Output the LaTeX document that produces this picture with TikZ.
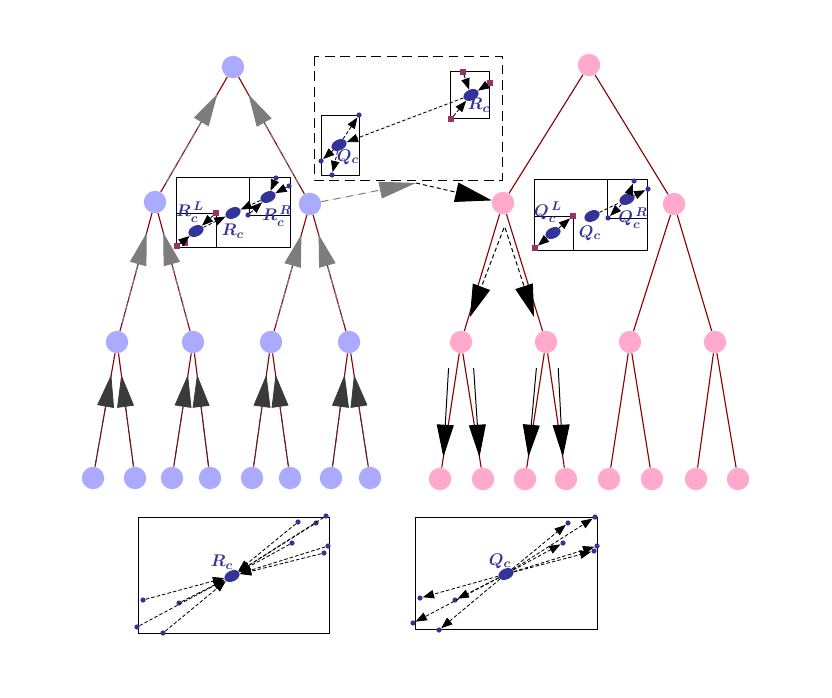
\documentclass[tikz,border=0pt]{standalone}
\usepackage{tikz}
\usetikzlibrary{positioning,calc,arrows.meta,shapes.geometric}

\definecolor{bluenode}{RGB}{170,170,255}
\definecolor{pinknode}{RGB}{255,170,204}
\definecolor{edgered}{RGB}{139,0,0}
\definecolor{dotblue}{RGB}{51,51,153}
\definecolor{dotpurple}{RGB}{153,51,102}
\definecolor{headgrey}{RGB}{125,125,125}
\definecolor{headdark}{RGB}{58,58,58}

\tikzset{
  bnode/.style={circle, fill=bluenode, minimum size=0.56cm, inner sep=0pt},
  pnode/.style={circle, fill=pinknode, minimum size=0.56cm, inner sep=0pt},
  tedge/.style={draw=edgered, line width=0.8pt},
  cdot/.style={ellipse, fill=dotblue, minimum width=0.4cm, minimum height=0.27cm, inner sep=0pt, rotate=25},
  sdot/.style={circle, fill=dotblue, minimum size=0.13cm, inner sep=0pt},
  pdot/.style={rectangle, fill=dotpurple, minimum size=0.13cm, inner sep=0pt},
  lbl/.style={text=dotblue, font=\fontsize{13}{15}\selectfont\boldmath, inner sep=0pt},
  climb/.style={draw=headdark, fill=headdark, line width=0.6pt, dashdotted, -{Triangle[length=23pt,width=12pt]}},
  rise/.style={draw=headgrey, fill=headgrey, line width=0.7pt, dash pattern=on 5pt off 4pt, -{Triangle[length=23pt,width=12pt]}},
  drop/.style={draw=black, line width=0.7pt, dash pattern=on 3pt off 2pt, -{Triangle[length=23pt,width=13pt]}},
  fall/.style={draw=black, line width=0.7pt, -{Triangle[length=23pt,width=12pt]}},
  hop/.style={draw=black, line width=0.6pt, dash pattern=on 2.5pt off 1.5pt, -{Triangle[length=8pt,width=6pt]}},
  box/.style={draw=black, line width=0.6pt},
}

\begin{document}
\begin{tikzpicture}[x=0.025cm, y=-0.025cm]
  \useasboundingbox (0,0) rectangle (832,697);

  % blue tree
  \node[bnode] (b) at (233,67) {};
  \node[bnode] (b1) at (155,202) {};
  \node[bnode] (b2) at (310,204) {};
  \node[bnode] (b11) at (117,342) {};
  \node[bnode] (b12) at (193,342) {};
  \node[bnode] (b21) at (271,342) {};
  \node[bnode] (b22) at (349,342) {};
  \node[bnode] (b111) at (93,478) {};
  \node[bnode] (b112) at (135,478) {};
  \node[bnode] (b121) at (172,478) {};
  \node[bnode] (b122) at (210,478) {};
  \node[bnode] (b211) at (252,478) {};
  \node[bnode] (b212) at (290,478) {};
  \node[bnode] (b221) at (331,478) {};
  \node[bnode] (b222) at (370,478) {};

  \draw[tedge] (b) -- (b1);
  \draw[tedge] (b) -- (b2);
  \draw[tedge] (b1) -- (b11);
  \draw[tedge] (b1) -- (b12);
  \draw[tedge] (b2) -- (b21);
  \draw[tedge] (b2) -- (b22);
  \draw[tedge] (b11) -- (b111);
  \draw[tedge] (b11) -- (b112);
  \draw[tedge] (b12) -- (b121);
  \draw[tedge] (b12) -- (b122);
  \draw[tedge] (b21) -- (b211);
  \draw[tedge] (b21) -- (b212);
  \draw[tedge] (b22) -- (b221);
  \draw[tedge] (b22) -- (b222);

  % pink tree
  \node[pnode] (p) at (589,65) {};
  \node[pnode] (p1) at (503,203) {};
  \node[pnode] (p2) at (674,204) {};
  \node[pnode] (p11) at (461,342) {};
  \node[pnode] (p12) at (546,342) {};
  \node[pnode] (p21) at (630,342) {};
  \node[pnode] (p22) at (715,342) {};
  \node[pnode] (p111) at (440,479) {};
  \node[pnode] (p112) at (483,479) {};
  \node[pnode] (p121) at (525,479) {};
  \node[pnode] (p122) at (566,479) {};
  \node[pnode] (p211) at (609,479) {};
  \node[pnode] (p212) at (652,479) {};
  \node[pnode] (p221) at (696,479) {};
  \node[pnode] (p222) at (738,479) {};

  \draw[tedge] (p) -- (p1);
  \draw[tedge] (p) -- (p2);
  \draw[tedge] (p1) -- (p11);
  \draw[tedge] (p1) -- (p12);
  \draw[tedge] (p2) -- (p21);
  \draw[tedge] (p2) -- (p22);
  \draw[tedge] (p11) -- (p111);
  \draw[tedge] (p11) -- (p112);
  \draw[tedge] (p12) -- (p121);
  \draw[tedge] (p12) -- (p122);
  \draw[tedge] (p21) -- (p211);
  \draw[tedge] (p21) -- (p212);
  \draw[tedge] (p22) -- (p221);
  \draw[tedge] (p22) -- (p222);

  % upward passes
  \draw[climb, xshift=-3pt] ($(b111)!0.1!(b11)$) -- ($(b111)!0.76!(b11)$);
  \draw[climb, xshift=3pt] ($(b112)!0.1!(b11)$) -- ($(b112)!0.76!(b11)$);
  \draw[climb, xshift=-3pt] ($(b121)!0.1!(b12)$) -- ($(b121)!0.76!(b12)$);
  \draw[climb, xshift=3pt] ($(b122)!0.1!(b12)$) -- ($(b122)!0.76!(b12)$);
  \draw[climb, xshift=-3pt] ($(b211)!0.1!(b21)$) -- ($(b211)!0.76!(b21)$);
  \draw[climb, xshift=3pt] ($(b212)!0.1!(b21)$) -- ($(b212)!0.76!(b21)$);
  \draw[climb, xshift=-3pt] ($(b221)!0.1!(b22)$) -- ($(b221)!0.76!(b22)$);
  \draw[climb, xshift=3pt] ($(b222)!0.1!(b22)$) -- ($(b222)!0.76!(b22)$);
  \draw[rise, xshift=-1.5pt] ($(b11)!0.14!(b1)$) -- ($(b11)!0.78!(b1)$);
  \draw[rise, xshift=1.5pt] ($(b12)!0.14!(b1)$) -- ($(b12)!0.78!(b1)$);
  \draw[rise, xshift=-1.5pt] ($(b21)!0.14!(b2)$) -- ($(b21)!0.78!(b2)$);
  \draw[rise, xshift=1.5pt] ($(b22)!0.14!(b2)$) -- ($(b22)!0.78!(b2)$);
  \draw[rise] ($(b1)!0.14!(b)$) -- ($(b1)!0.8!(b)$);
  \draw[rise] ($(b2)!0.14!(b)$) -- ($(b2)!0.8!(b)$);

  % downward passes
  \draw[drop] ([xshift=6pt]$(p1)!0.18!(p11)$) -- ([xshift=1pt]$(p1)!0.82!(p11)$);
  \draw[drop] ([xshift=-4pt]$(p1)!0.18!(p12)$) -- ([xshift=-3pt]$(p1)!0.82!(p12)$);
  \draw[fall] ([xshift=-6pt]$(p11)!0.19!(p111)$) -- ($(p11)!0.84!(p111)$);
  \draw[fall] ([xshift=6pt]$(p11)!0.19!(p112)$) -- ($(p11)!0.84!(p112)$);
  \draw[fall] ([xshift=-4pt]$(p12)!0.19!(p121)$) -- ($(p12)!0.84!(p121)$);
  \draw[fall] ([xshift=6pt]$(p12)!0.19!(p122)$) -- ($(p12)!0.84!(p122)$);

  % box at b1
  \draw[box] (176,177) rectangle (290,247);
  \draw[box] (176,213) -- (216,213) -- (216,247);
  \draw[box] (249,177) -- (249,215) -- (290,215);
  \node[cdot] (Rc) at (233,213) {};
  \node[cdot] (Rl) at (196,231) {};
  \node[cdot] (Rr) at (268,197) {};
  \node[pdot] (ra) at (177,246) {};
  \node[pdot] (rb) at (185,243) {};
  \node[pdot] (rc) at (216,213) {};
  \node[sdot] (rd) at (248,215) {};
  \node[sdot] (re) at (276,178) {};
  \node[sdot] (rf) at (289,186) {};
  \draw[hop] (ra) -- (Rl);
  \draw[hop] (rc) -- (Rl);
  \draw[hop] (rd) -- (Rr);
  \draw[hop] (re) -- (Rr);
  \draw[hop] (rf) -- (Rr);
  \draw[hop] (Rl) -- (Rc);
  \draw[hop] (Rr) -- (Rc);
  \node[lbl] at ([shift={(0,18)}]Rc) {$R_c$};
  \node[lbl] at ([shift={(-6,-19)}]Rl) {$R_c^{\,L}$};
  \node[lbl] at ([shift={(9,19)}]Rr) {$R_c^{\,R}$};

  % box at p1
  \draw[box] (534,179) rectangle (647,250);
  \draw[box] (534,216) -- (573,216) -- (573,250);
  \draw[box] (607,179) -- (607,218) -- (647,218);
  \node[cdot] (Qc) at (592,216) {};
  \node[cdot] (Ql) at (553,233) {};
  \node[cdot] (Qr) at (627,199) {};
  \node[pdot] (qa) at (535,248) {};
  \node[pdot] (qb) at (573,216) {};
  \node[sdot] (qc) at (608,218) {};
  \node[sdot] (qd) at (634,181) {};
  \node[sdot] (qe) at (648,189) {};
  \draw[hop] (Ql) -- (qa);
  \draw[hop] (Ql) -- (qb);
  \draw[hop] (Qr) -- (qc);
  \draw[hop] (Qr) -- (qd);
  \draw[hop] (Qr) -- (qe);
  \draw[box, dash pattern=on 2.5pt off 1.5pt] (Qc) -- (Qr);
  \node[lbl] at ([shift={(-2,17)}]Qc) {$Q_c$};
  \node[lbl] at ([shift={(-5,-21)}]Ql) {$Q_c^{\,L}$};
  \node[lbl] at ([shift={(6,19)}]Qr) {$Q_c^{\,R}$};

  % window between the trees
  \draw[box, dash pattern=on 7pt off 4pt] (314,56) rectangle (502,180);
  \coordinate (wout) at (416,183);
  \draw[box] (321,115) rectangle (359,175);
  \draw[box] (450,71) rectangle (489,118);
  \node[cdot] (Qt) at (339,145) {};
  \node[cdot] (Rt) at (471,95) {};
  \node[sdot] (ta) at (359,115) {};
  \node[sdot] (tb) at (321,161) {};
  \node[sdot] (tc) at (332,175) {};
  \node[pdot] (td) at (463,72) {};
  \node[pdot] (te) at (490,83) {};
  \node[pdot] (tf) at (451,119) {};
  \draw[hop] (td) -- (Rt);
  \draw[hop] (te) -- (Rt);
  \draw[hop] (tf) -- (Rt);
  \draw[hop] (Rt) -- (Qt);
  \draw[hop] (Qt) -- (ta);
  \draw[hop] (Qt) -- (tb);
  \draw[hop] (Qt) -- (tc);
  \node[lbl] at ([shift={(9,12)}]Qt) {$Q_c$};
  \node[lbl] at ([shift={(8,10)}]Rt) {$R_c$};
  \draw[rise, -{Triangle[length=26pt,width=12pt]}] (b2) -- (wout);
  \draw[drop, -{Triangle[length=26pt,width=14pt]}] (wout) -- (p1);

  % bottom left box
  \draw[box] (138,517) rectangle (329,633);
  \node[cdot] (Rb) at (232,576) {};
  \node[sdot] (ra1) at (298,522) {};
  \node[sdot] (ra2) at (316,523) {};
  \node[sdot] (ra3) at (326,516) {};
  \node[sdot] (ra4) at (292,543) {};
  \node[sdot] (ra5) at (328,546) {};
  \node[sdot] (ra6) at (324,553) {};
  \node[sdot] (ra7) at (143,600) {};
  \node[sdot] (ra8) at (179,603) {};
  \node[sdot] (ra9) at (137,627) {};
  \node[sdot] (ra10) at (163,633) {};
  \draw[hop] (ra1) -- (Rb);
  \draw[hop] (ra2) -- (Rb);
  \draw[hop] (ra3) -- (Rb);
  \draw[hop] (ra4) -- (Rb);
  \draw[hop] (ra5) -- (Rb);
  \draw[hop] (ra6) -- (Rb);
  \draw[hop] (ra7) -- (Rb);
  \draw[hop] (ra8) -- (Rb);
  \draw[hop] (ra9) -- (Rb);
  \draw[hop] (ra10) -- (Rb);
  \node[lbl] at ([shift={(-10,-14)}]Rb) {$R_c$};

  % bottom right box
  \draw[box] (415,517) rectangle (597,629);
  \node[cdot] (Qb) at (506,574) {};
  \node[sdot] (qa1) at (568,523) {};
  \node[sdot] (qa2) at (595,517) {};
  \node[sdot] (qa3) at (563,543) {};
  \node[sdot] (qa4) at (597,546) {};
  \node[sdot] (qa5) at (594,551) {};
  \node[sdot] (qa6) at (420,598) {};
  \node[sdot] (qa7) at (455,600) {};
  \node[sdot] (qa8) at (413,623) {};
  \node[sdot] (qa9) at (439,630) {};
  \draw[hop] (Qb) -- (qa1);
  \draw[hop] (Qb) -- (qa2);
  \draw[hop] (Qb) -- (qa3);
  \draw[hop] (Qb) -- (qa4);
  \draw[hop] (Qb) -- (qa5);
  \draw[hop] (Qb) -- (qa6);
  \draw[hop] (Qb) -- (qa7);
  \draw[hop] (Qb) -- (qa8);
  \draw[hop] (Qb) -- (qa9);
  \node[lbl] at ([shift={(-6,-13)}]Qb) {$Q_c$};

\end{tikzpicture}
\end{document}
